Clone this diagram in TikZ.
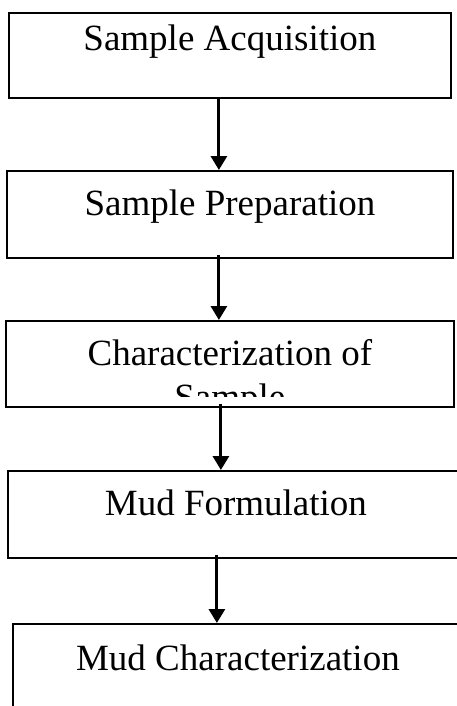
\documentclass[tikz,border=0pt]{standalone}
\usepackage{fontspec}
\setmainfont{Liberation Serif}
\usetikzlibrary{arrows.meta}
\begin{document}
\begin{tikzpicture}[x=1pt,y=-1pt]
\tikzset{
	boite/.style={draw, line width=1.8pt, rectangle, inner sep=0pt, anchor=north west,
		font=\fontsize{37}{43}\selectfont},
	fleche/.style={line width=3pt, -{Triangle[width=16pt,length=14pt]}}
}
  \useasboundingbox (0,0) rectangle (457,706);

 % les boîtes
  \node[boite, minimum width=442pt, text height=38pt, text depth=47pt] (acq) at (8,12) {Sample Acquisition};
  \node[boite, minimum width=446pt, text height=45pt, text depth=42pt] (prep) at (6,170) {Sample Preparation};
  \node[boite, minimum width=448pt, text height=45pt, text depth=41pt] (carac) at (5,320) {Characterization of};
  \node[boite, minimum width=456pt, text height=45pt, text depth=42pt] (form) at (7,470) {Mud Formulation};
  \node[boite, minimum width=450pt, text height=47pt, text depth=150pt] (mudc) at (12,623) {Mud Characterization};

 % la deuxième ligne, coupée par la boîte
  \begin{scope}
    \clip (carac.north west) rectangle ([yshift=11pt]carac.south east);
    \node[font=\fontsize{37}{43}\selectfont, anchor=base, inner sep=0pt] (echant) at ([yshift=-44pt]carac.base) {Sample};
  \end{scope}

 % les flèches
  \draw[fleche] ([xshift=-11pt]acq.south) -- ([xshift=-11pt]acq.south |- prep.north);
  \draw[fleche] ([xshift=-11pt,yshift=4pt]prep.south) -- ([xshift=-11pt]prep.south |- carac.north);
  \draw[fleche] ([xshift=-9pt,yshift=4pt]carac.south) -- ([xshift=-9pt]carac.south |- form.north);
  \draw[fleche] ([xshift=-19pt,yshift=4pt]form.south) -- ([xshift=-19pt]form.south |- mudc.north);
\end{tikzpicture}
\end{document}
